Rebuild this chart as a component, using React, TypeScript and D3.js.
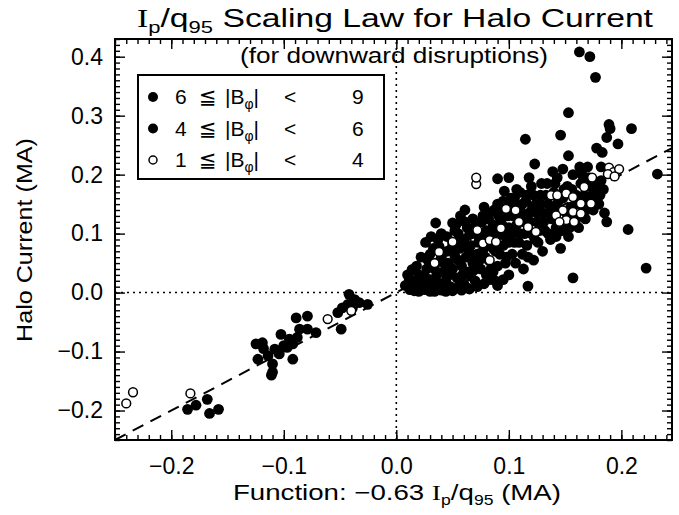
import * as d3 from "d3";
import { useEffect, useRef } from "react";

const W = 679;
const H = 515;

const xDomain = [-0.25, 0.245];
const yDomain = [-0.25, 0.43];
const xTicks = [-0.2, -0.1, 0.0, 0.1, 0.2];
const yTicks = [-0.2, -0.1, 0.0, 0.1, 0.2, 0.3, 0.4];

// fitted scaling law: halo current = function value
const fitLine = [[-0.25, -0.25], [0.245, 0.245]];

// 6 <= |B_phi| < 9 (filled)
const bHigh = [
  [0.1627, 0.408], [0.172, 0.4], [0.177, 0.365], [0.153, 0.305], [0.1147, 0.26], [0.146, 0.267],
  [0.189, 0.285], [0.19, 0.278], [0.209, 0.278], [0.187, 0.263], [0.197, 0.252], [0.178, 0.245],
  [0.183, 0.2376], [0.153, 0.232], [0.232, 0.201], [0.163, 0.213], [0.17, 0.213], [0.148, 0.2095],
  [0.182, 0.213], [0.09, 0.193], [0.187, 0.12], [0.206, 0.107], [0.222, 0.0415], [0.157, 0.025],
  [0.117, 0.011], [0.123, 0.218], [0.1, 0.195],
  [0.132, 0.105], [0.134, 0.185], [0.135, 0.15], [0.137, 0.09], [0.138, 0.125], [0.14, 0.17],
  [0.142, 0.11], [0.143, 0.195], [0.145, 0.14], [0.146, 0.075], [0.148, 0.16], [0.15, 0.12],
  [0.152, 0.18], [0.153, 0.095], [0.155, 0.145], [0.157, 0.2], [0.158, 0.13], [0.16, 0.165],
  [0.162, 0.11], [0.164, 0.185], [0.166, 0.145], [0.168, 0.125], [0.17, 0.16], [0.172, 0.18],
  [0.175, 0.14], [0.18, 0.15], [0.178, 0.17], [0.185, 0.135], [0.182, 0.19],
  [0.131, 0.12], [0.133, 0.165], [0.135, 0.1], [0.136, 0.135], [0.139, 0.145], [0.141, 0.185],
  [0.142, 0.095], [0.144, 0.155], [0.147, 0.105], [0.149, 0.175], [0.151, 0.135], [0.154, 0.11],
  [0.156, 0.175], [0.159, 0.12], [0.161, 0.15], [0.163, 0.13], [0.165, 0.2], [0.167, 0.165],
  [0.169, 0.14], [0.171, 0.195], [0.174, 0.165], [0.176, 0.155], [0.179, 0.185], [0.181, 0.165],
  [0.184, 0.175],
  [0.104, 0.13], [0.105, 0.085], [0.106, 0.05], [0.108, 0.145], [0.11, 0.1], [0.11, 0.17],
  [0.112, 0.065], [0.114, 0.12], [0.115, 0.155], [0.116, 0.08], [0.118, 0.135], [0.12, 0.1],
  [0.12, 0.18], [0.122, 0.055], [0.124, 0.15], [0.125, 0.12], [0.126, 0.085], [0.128, 0.165],
  [0.13, 0.135], [0.13, 0.07], [0.113, 0.04], [0.107, 0.175],
  [0.091, 0.13], [0.092, 0.065], [0.094, 0.115], [0.095, 0.155], [0.097, 0.05], [0.099, 0.13],
  [0.1, 0.085], [0.101, 0.145], [0.103, 0.1], [0.103, 0.065], [0.105, 0.16], [0.107, 0.115],
  [0.109, 0.085], [0.111, 0.135], [0.112, 0.15], [0.114, 0.1], [0.116, 0.165], [0.117, 0.06],
  [0.119, 0.12], [0.121, 0.145], [0.122, 0.165], [0.123, 0.09], [0.125, 0.135], [0.127, 0.105],
  [0.128, 0.15], [0.129, 0.185], [0.118, 0.195], [0.096, 0.172], [0.139, 0.205],
];

// 4 <= |B_phi| < 6 (filled)
const bMid = [
  [-0.1855, -0.198], [-0.178, -0.191], [-0.168, -0.181], [-0.166, -0.205], [-0.158, -0.198],
  [-0.1247, -0.087], [-0.119, -0.085], [-0.123, -0.113], [-0.11, -0.121], [-0.11, -0.135],
  [-0.111, -0.14], [-0.108, -0.096], [-0.104, -0.104], [-0.1025, -0.071], [-0.095, -0.079],
  [-0.092, -0.087], [-0.097, -0.093], [-0.092, -0.113], [-0.089, -0.043], [-0.079, -0.04],
  [-0.086, -0.062], [-0.079, -0.062], [-0.0714, -0.068], [-0.088, -0.076], [-0.114, -0.107],
  [-0.1, -0.09], [-0.118, -0.095],
  [-0.049, -0.062], [-0.052, -0.034], [-0.048, -0.026], [-0.042, -0.003], [-0.037, -0.012],
  [-0.033, -0.017], [-0.0255, -0.02], [-0.043, -0.02], [-0.039, -0.026],
  [0.063, 0.008], [0.083, 0.022], [0.035, 0.118], [0.05, 0.118], [0.0145, 0.0387], [0.0116, 0.022],
  [0.008, 0.012], [0.012, 0.005], [0.015, 0.02], [0.018, 0.01], [0.02, 0.03], [0.022, 0.015],
  [0.025, 0.005], [0.027, 0.04], [0.03, 0.022], [0.032, 0.01], [0.035, 0.05], [0.036, 0.03],
  [0.038, 0.015], [0.04, 0.06], [0.04, 0.004], [0.014, 0.039], [0.012, 0.022], [0.028, 0.055],
  [0.033, 0.075], [0.037, 0.09], [0.016, 0.003], [0.024, 0.012], [0.03, 0.002], [0.042, 0.008],
  [0.05, 0.003], [0.056, 0.012], [0.065, 0.006], [0.072, 0.01],
  [0.01, 0.03], [0.018, 0.045], [0.022, 0.06], [0.026, 0.025], [0.03, 0.065], [0.034, 0.04],
  [0.038, 0.078], [0.043, 0.048], [0.047, 0.03], [0.049, 0.075], [0.02, 0.002], [0.044, 0.002],
  [0.058, 0.004], [0.034, 0.002], [0.026, 0.085], [0.031, 0.095],
  [0.042, 0.035], [0.044, 0.02], [0.045, 0.07], [0.046, 0.05], [0.048, 0.01], [0.05, 0.085],
  [0.05, 0.04], [0.052, 0.062], [0.054, 0.025], [0.055, 0.1], [0.056, 0.075], [0.058, 0.045],
  [0.06, 0.09], [0.06, 0.015], [0.062, 0.06], [0.063, 0.11], [0.064, 0.035], [0.066, 0.08],
  [0.068, 0.05], [0.068, 0.125], [0.07, 0.1], [0.07, 0.02], [0.072, 0.065], [0.045, 0.095],
  [0.053, 0.115],
  [0.052, 0.105], [0.055, 0.055], [0.057, 0.088], [0.059, 0.03], [0.061, 0.12], [0.063, 0.075],
  [0.065, 0.098], [0.067, 0.065], [0.069, 0.038], [0.071, 0.115], [0.073, 0.085], [0.074, 0.055],
  [0.076, 0.1], [0.077, 0.13], [0.079, 0.06], [0.081, 0.088], [0.082, 0.125], [0.084, 0.04],
  [0.084, 0.105], [0.086, 0.075], [0.087, 0.14], [0.089, 0.095], [0.061, 0.14], [0.057, 0.13],
  [0.074, 0.09], [0.075, 0.04], [0.076, 0.12], [0.078, 0.075], [0.08, 0.105], [0.08, 0.03],
  [0.082, 0.055], [0.083, 0.135], [0.085, 0.09], [0.086, 0.115], [0.088, 0.07], [0.09, 0.15],
  [0.09, 0.045], [0.092, 0.1], [0.093, 0.125], [0.095, 0.08], [0.096, 0.14], [0.098, 0.06],
  [0.1, 0.11], [0.1, 0.03], [0.102, 0.16], [0.078, 0.145], [0.088, 0.02], [0.097, 0.095],
  [0.078, 0.015], [0.09, 0.012], [0.095, 0.022], [0.066, 0.028], [0.086, 0.035], [0.04, 0.1],
];

// 1 <= |B_phi| < 4 (open)
const bLow = [
  [-0.24, -0.188], [-0.234, -0.169], [-0.183, -0.171], [-0.061, -0.045], [-0.04, -0.031],
  [0.071, 0.184], [0.071, 0.195], [0.189, 0.212], [0.193, 0.204], [0.198, 0.2095], [0.188, 0.201],
  [0.194, 0.197], [0.174, 0.195], [0.167, 0.179], [0.1375, 0.165], [0.143, 0.165], [0.151, 0.168],
  [0.157, 0.162], [0.164, 0.151], [0.173, 0.151], [0.148, 0.1395], [0.157, 0.137], [0.142, 0.131],
  [0.151, 0.123], [0.158, 0.12], [0.145, 0.12], [0.164, 0.134], [0.0975, 0.142], [0.106, 0.1395],
  [0.093, 0.109], [0.109, 0.12], [0.117, 0.111], [0.124, 0.103], [0.077, 0.0835], [0.083, 0.089],
  [0.0886, 0.086], [0.072, 0.106], [0.05, 0.086], [0.038, 0.069], [0.034, 0.05], [0.083, 0.055],
];

const legendRows = [
  { lo: "6", hi: "9", open: false },
  { lo: "4", hi: "6", open: false },
  { lo: "1", hi: "4", open: true },
];

const font = "'Liberation Sans', Arial, Helvetica, 'DejaVu Sans', 'Noto Sans CJK JP', sans-serif";

export default function App() {
  const ref = useRef<SVGSVGElement>(null);

  useEffect(() => {
    document.body.style.margin = "0";
    const svg = d3.select(ref.current);
    svg.selectAll("*").remove();

    const x = d3.scaleLinear().domain(xDomain).range([115, 672]);
    const y = d3.scaleLinear().domain(yDomain).range([440, 39]);

    const minorX = d3.range(-25, 25).map((i) => i / 100).filter((v) => v >= xDomain[0] && v <= xDomain[1]);
    const minorY = d3.range(-25, 44).map((i) => i / 100).filter((v) => v >= yDomain[0] && v <= yDomain[1]);
    const fmt = d3.format(".1f");

    const addAxis = (axis, transform) => {
      const g = svg.append("g").attr("transform", transform).call(axis);
      g.select(".domain").remove();
      g.selectAll(".tick line").attr("stroke", "#000").attr("stroke-width", 1.4);
      g.attr("font-family", font).attr("font-size", 23);
      g.selectAll("text").attr("fill", "#000");
      return g;
    };
    const none = () => "";

    // minor ticks
    addAxis(d3.axisBottom(x).tickValues(minorX).tickSize(-5).tickSizeOuter(0).tickFormat(none), "translate(0,440)");
    addAxis(d3.axisTop(x).tickValues(minorX).tickSize(-5).tickSizeOuter(0).tickFormat(none), "translate(0,39)");
    addAxis(d3.axisLeft(y).tickValues(minorY).tickSize(-5).tickSizeOuter(0).tickFormat(none), "translate(115,0)");
    addAxis(d3.axisRight(y).tickValues(minorY).tickSize(-5).tickSizeOuter(0).tickFormat(none), "translate(672,0)");
    // major ticks
    addAxis(d3.axisBottom(x).tickValues(xTicks).tickSize(-10).tickSizeOuter(0).tickPadding(18).tickFormat(fmt), "translate(0,440)");
    addAxis(d3.axisTop(x).tickValues(xTicks).tickSize(-10).tickSizeOuter(0).tickFormat(none), "translate(0,39)");
    addAxis(d3.axisLeft(y).tickValues(yTicks).tickSize(-10).tickSizeOuter(0).tickPadding(12).tickFormat(fmt), "translate(115,0)");
    addAxis(d3.axisRight(y).tickValues(yTicks).tickSize(-10).tickSizeOuter(0).tickFormat(none), "translate(672,0)");

    // zero lines
    svg.append("line")
      .attr("x1", x(xDomain[0])).attr("x2", x(xDomain[1]))
      .attr("y1", y(0)).attr("y2", y(0))
      .attr("stroke", "#000").attr("stroke-width", 1.6).attr("stroke-dasharray", "2,4");
    svg.append("line")
      .attr("x1", x(0)).attr("x2", x(0))
      .attr("y1", y(yDomain[0])).attr("y2", y(yDomain[1]))
      .attr("stroke", "#000").attr("stroke-width", 1.6).attr("stroke-dasharray", "2,4");

    // fit line
    const line = d3.line().x((d) => x(d[0])).y((d) => y(d[1]));
    svg.append("path")
      .attr("d", line(fitLine))
      .attr("fill", "none").attr("stroke", "#000").attr("stroke-width", 2)
      .attr("stroke-dasharray", "12,8");

    // points
    svg.append("g").selectAll("circle").data(bMid).join("circle")
      .attr("cx", (d) => x(d[0])).attr("cy", (d) => y(d[1])).attr("r", 5.4).attr("fill", "#000");
    svg.append("g").selectAll("circle").data(bHigh).join("circle")
      .attr("cx", (d) => x(d[0])).attr("cy", (d) => y(d[1])).attr("r", 5.4).attr("fill", "#000");
    svg.append("g").selectAll("circle").data(bLow).join("circle")
      .attr("cx", (d) => x(d[0])).attr("cy", (d) => y(d[1])).attr("r", 4.4)
      .attr("fill", "#fff").attr("stroke", "#000").attr("stroke-width", 1.5);

    // frame
    svg.append("rect")
      .attr("x", 115).attr("y", 39).attr("width", 557).attr("height", 401)
      .attr("fill", "none").attr("stroke", "#000").attr("stroke-width", 2);

    // legend
    const lg = svg.append("g");
    lg.append("rect").attr("x", 138).attr("y", 75).attr("width", 246).attr("height", 104)
      .attr("fill", "#fff").attr("stroke", "#000").attr("stroke-width", 2);
    legendRows.forEach((r, i) => {
      const ry = 97 + i * 31.5;
      lg.append("circle").attr("cx", 153).attr("cy", ry).attr("r", r.open ? 4 : 5)
        .attr("fill", r.open ? "#fff" : "#000").attr("stroke", "#000").attr("stroke-width", r.open ? 1.5 : 0);
      const t = lg.append("text").attr("x", 175).attr("y", ry + 7)
        .attr("font-family", font).attr("font-size", 21).attr("fill", "#000");
      t.append("tspan").text(r.lo);
      t.append("tspan").attr("x", 199).text("≦");
      t.append("tspan").attr("x", 225).text("|B");
      t.append("tspan").attr("font-size", 14).attr("dy", 5).text("φ");
      t.append("tspan").attr("dy", -5).text("|");
      t.append("tspan").attr("x", 284).text("<");
      t.append("tspan").attr("x", 352).text(r.hi);
    });

    // title
    const title = svg.append("text").attr("x", 137).attr("y", 27)
      .attr("font-family", font).attr("font-size", 26).attr("fill", "#000")
      .attr("textLength", 516).attr("lengthAdjust", "spacingAndGlyphs");
    title.append("tspan").attr("font-family", "'Liberation Serif', serif").text("I");
    title.append("tspan").attr("font-size", 17).attr("dy", 6).text("p");
    title.append("tspan").attr("dy", -6).text("/q");
    title.append("tspan").attr("font-size", 17).attr("dy", 6).text("95");
    title.append("tspan").attr("dy", -6).text(" Scaling Law for Halo Current");

    svg.append("text").attr("x", 240).attr("y", 63)
      .attr("font-family", font).attr("font-size", 22).attr("fill", "#000")
      .attr("textLength", 308).attr("lengthAdjust", "spacingAndGlyphs")
      .text("(for downward disruptions)");

    // axis titles
    const xl = svg.append("text").attr("x", 233).attr("y", 500)
      .attr("font-family", font).attr("font-size", 22).attr("fill", "#000")
      .attr("textLength", 328).attr("lengthAdjust", "spacingAndGlyphs");
    xl.append("tspan").text("Function: −0.63 ");
    xl.append("tspan").attr("font-family", "'Liberation Serif', serif").text("I");
    xl.append("tspan").attr("font-size", 14).attr("dy", 5).text("p");
    xl.append("tspan").attr("dy", -5).text("/q");
    xl.append("tspan").attr("font-size", 14).attr("dy", 5).text("95");
    xl.append("tspan").attr("dy", -5).text(" (MA)");

    svg.append("text").attr("transform", "translate(32,342) rotate(-90)")
      .attr("font-family", font).attr("font-size", 22).attr("fill", "#000")
      .attr("textLength", 204).attr("lengthAdjust", "spacingAndGlyphs")
      .text("Halo Current (MA)");
  }, []);

  return <svg ref={ref} width={W} height={H} style={{ display: "block", background: "#fff" }} />;
}
